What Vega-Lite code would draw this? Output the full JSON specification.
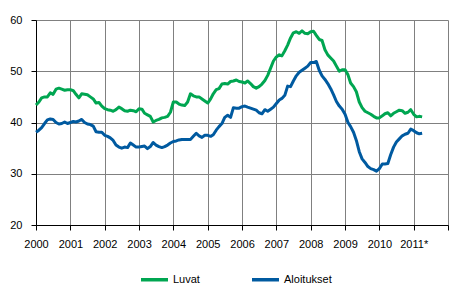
{
  "$schema": "https://vega.github.io/schema/vega-lite/v6.json",
  "width": 412,
  "height": 205,
  "autosize": {"type": "none"},
  "padding": {"left": 36, "top": 20, "right": 25, "bottom": 78},
  "background": "white",
  "config": {
    "view": {"stroke": null},
    "font": "Liberation Sans",
    "axis": {"labelFont": "Liberation Sans", "labelFontSize": 11, "labelColor": "#000000", "gridColor": "#808080", "gridWidth": 1, "gridOpacity": 1, "domainColor": "#000000", "tickColor": "#000000", "domainWidth": 1, "tickWidth": 1}
  },
  "data": {
    "values": [
      {"d":"2000-01","Luvat":43.4,"Aloitukset":38.1},
      {"d":"2000-02","Luvat":44.0,"Aloitukset":38.5},
      {"d":"2000-03","Luvat":44.8,"Aloitukset":39.0},
      {"d":"2000-04","Luvat":45.0,"Aloitukset":39.8},
      {"d":"2000-05","Luvat":45.0,"Aloitukset":40.5},
      {"d":"2000-06","Luvat":45.8,"Aloitukset":40.7},
      {"d":"2000-07","Luvat":45.5,"Aloitukset":40.6},
      {"d":"2000-08","Luvat":46.5,"Aloitukset":40.0},
      {"d":"2000-09","Luvat":46.7,"Aloitukset":39.7},
      {"d":"2000-10","Luvat":46.5,"Aloitukset":39.8},
      {"d":"2000-11","Luvat":46.3,"Aloitukset":40.1},
      {"d":"2000-12","Luvat":46.4,"Aloitukset":39.8},
      {"d":"2001-01","Luvat":46.4,"Aloitukset":40.0},
      {"d":"2001-02","Luvat":46.2,"Aloitukset":40.2},
      {"d":"2001-03","Luvat":45.5,"Aloitukset":40.1},
      {"d":"2001-04","Luvat":44.8,"Aloitukset":40.3},
      {"d":"2001-05","Luvat":45.6,"Aloitukset":40.6},
      {"d":"2001-06","Luvat":45.5,"Aloitukset":40.0},
      {"d":"2001-07","Luvat":45.4,"Aloitukset":39.7},
      {"d":"2001-08","Luvat":45.0,"Aloitukset":39.6},
      {"d":"2001-09","Luvat":44.6,"Aloitukset":39.3},
      {"d":"2001-10","Luvat":43.8,"Aloitukset":38.2},
      {"d":"2001-11","Luvat":43.9,"Aloitukset":38.1},
      {"d":"2001-12","Luvat":43.2,"Aloitukset":38.1},
      {"d":"2002-01","Luvat":42.7,"Aloitukset":37.5},
      {"d":"2002-02","Luvat":42.5,"Aloitukset":37.3},
      {"d":"2002-03","Luvat":42.4,"Aloitukset":37.0},
      {"d":"2002-04","Luvat":42.2,"Aloitukset":36.5},
      {"d":"2002-05","Luvat":42.5,"Aloitukset":35.6},
      {"d":"2002-06","Luvat":43.0,"Aloitukset":35.2},
      {"d":"2002-07","Luvat":42.7,"Aloitukset":35.0},
      {"d":"2002-08","Luvat":42.3,"Aloitukset":35.2},
      {"d":"2002-09","Luvat":42.2,"Aloitukset":35.1},
      {"d":"2002-10","Luvat":42.4,"Aloitukset":36.0},
      {"d":"2002-11","Luvat":42.3,"Aloitukset":35.6},
      {"d":"2002-12","Luvat":42.1,"Aloitukset":35.2},
      {"d":"2003-01","Luvat":42.7,"Aloitukset":35.2},
      {"d":"2003-02","Luvat":42.6,"Aloitukset":35.3},
      {"d":"2003-03","Luvat":41.8,"Aloitukset":35.4},
      {"d":"2003-04","Luvat":41.5,"Aloitukset":34.9},
      {"d":"2003-05","Luvat":41.2,"Aloitukset":35.3},
      {"d":"2003-06","Luvat":40.1,"Aloitukset":36.1},
      {"d":"2003-07","Luvat":40.4,"Aloitukset":35.6},
      {"d":"2003-08","Luvat":40.6,"Aloitukset":35.3},
      {"d":"2003-09","Luvat":40.9,"Aloitukset":35.1},
      {"d":"2003-10","Luvat":41.0,"Aloitukset":35.3},
      {"d":"2003-11","Luvat":41.2,"Aloitukset":35.6},
      {"d":"2003-12","Luvat":42.0,"Aloitukset":36.0},
      {"d":"2004-01","Luvat":44.0,"Aloitukset":36.3},
      {"d":"2004-02","Luvat":44.0,"Aloitukset":36.4},
      {"d":"2004-03","Luvat":43.6,"Aloitukset":36.6},
      {"d":"2004-04","Luvat":43.4,"Aloitukset":36.7},
      {"d":"2004-05","Luvat":43.3,"Aloitukset":36.7},
      {"d":"2004-06","Luvat":44.0,"Aloitukset":36.7},
      {"d":"2004-07","Luvat":45.6,"Aloitukset":36.7},
      {"d":"2004-08","Luvat":45.2,"Aloitukset":37.3},
      {"d":"2004-09","Luvat":45.0,"Aloitukset":37.9},
      {"d":"2004-10","Luvat":45.0,"Aloitukset":37.4},
      {"d":"2004-11","Luvat":44.6,"Aloitukset":37.1},
      {"d":"2004-12","Luvat":44.2,"Aloitukset":37.5},
      {"d":"2005-01","Luvat":43.8,"Aloitukset":37.5},
      {"d":"2005-02","Luvat":44.6,"Aloitukset":37.3},
      {"d":"2005-03","Luvat":45.6,"Aloitukset":37.6},
      {"d":"2005-04","Luvat":46.4,"Aloitukset":38.5},
      {"d":"2005-05","Luvat":46.6,"Aloitukset":39.2},
      {"d":"2005-06","Luvat":47.5,"Aloitukset":39.8},
      {"d":"2005-07","Luvat":47.6,"Aloitukset":41.0},
      {"d":"2005-08","Luvat":47.5,"Aloitukset":41.4},
      {"d":"2005-09","Luvat":48.0,"Aloitukset":41.0},
      {"d":"2005-10","Luvat":48.1,"Aloitukset":42.9},
      {"d":"2005-11","Luvat":48.3,"Aloitukset":42.8},
      {"d":"2005-12","Luvat":48.0,"Aloitukset":42.8},
      {"d":"2006-01","Luvat":47.9,"Aloitukset":43.1},
      {"d":"2006-02","Luvat":47.7,"Aloitukset":43.2},
      {"d":"2006-03","Luvat":48.1,"Aloitukset":43.0},
      {"d":"2006-04","Luvat":47.6,"Aloitukset":42.8},
      {"d":"2006-05","Luvat":47.0,"Aloitukset":42.6},
      {"d":"2006-06","Luvat":46.7,"Aloitukset":42.4},
      {"d":"2006-07","Luvat":47.0,"Aloitukset":41.9},
      {"d":"2006-08","Luvat":47.5,"Aloitukset":41.7},
      {"d":"2006-09","Luvat":48.2,"Aloitukset":42.5},
      {"d":"2006-10","Luvat":49.2,"Aloitukset":42.2},
      {"d":"2006-11","Luvat":50.6,"Aloitukset":42.6},
      {"d":"2006-12","Luvat":52.0,"Aloitukset":43.0},
      {"d":"2007-01","Luvat":52.8,"Aloitukset":43.7},
      {"d":"2007-02","Luvat":53.2,"Aloitukset":44.4},
      {"d":"2007-03","Luvat":53.0,"Aloitukset":44.7},
      {"d":"2007-04","Luvat":54.0,"Aloitukset":45.3},
      {"d":"2007-05","Luvat":55.1,"Aloitukset":47.1},
      {"d":"2007-06","Luvat":56.5,"Aloitukset":47.0},
      {"d":"2007-07","Luvat":57.5,"Aloitukset":48.1},
      {"d":"2007-08","Luvat":57.7,"Aloitukset":49.1},
      {"d":"2007-09","Luvat":57.4,"Aloitukset":49.8},
      {"d":"2007-10","Luvat":57.9,"Aloitukset":50.2},
      {"d":"2007-11","Luvat":57.4,"Aloitukset":50.6},
      {"d":"2007-12","Luvat":57.3,"Aloitukset":51.0},
      {"d":"2008-01","Luvat":57.7,"Aloitukset":51.7},
      {"d":"2008-02","Luvat":57.8,"Aloitukset":51.7},
      {"d":"2008-03","Luvat":57.0,"Aloitukset":51.9},
      {"d":"2008-04","Luvat":56.2,"Aloitukset":50.2},
      {"d":"2008-05","Luvat":56.0,"Aloitukset":49.1},
      {"d":"2008-06","Luvat":54.2,"Aloitukset":48.4},
      {"d":"2008-07","Luvat":53.2,"Aloitukset":47.6},
      {"d":"2008-08","Luvat":52.6,"Aloitukset":46.6},
      {"d":"2008-09","Luvat":52.0,"Aloitukset":45.4},
      {"d":"2008-10","Luvat":51.0,"Aloitukset":44.1},
      {"d":"2008-11","Luvat":50.0,"Aloitukset":43.2},
      {"d":"2008-12","Luvat":50.3,"Aloitukset":42.6},
      {"d":"2009-01","Luvat":50.3,"Aloitukset":41.6},
      {"d":"2009-02","Luvat":49.3,"Aloitukset":40.0},
      {"d":"2009-03","Luvat":47.7,"Aloitukset":39.2},
      {"d":"2009-04","Luvat":47.0,"Aloitukset":38.1},
      {"d":"2009-05","Luvat":46.0,"Aloitukset":36.5},
      {"d":"2009-06","Luvat":44.0,"Aloitukset":34.3},
      {"d":"2009-07","Luvat":42.9,"Aloitukset":32.9},
      {"d":"2009-08","Luvat":42.2,"Aloitukset":32.2},
      {"d":"2009-09","Luvat":41.9,"Aloitukset":31.4},
      {"d":"2009-10","Luvat":41.6,"Aloitukset":31.0},
      {"d":"2009-11","Luvat":41.2,"Aloitukset":30.8},
      {"d":"2009-12","Luvat":40.9,"Aloitukset":30.5},
      {"d":"2010-01","Luvat":40.9,"Aloitukset":31.0},
      {"d":"2010-02","Luvat":41.3,"Aloitukset":31.9},
      {"d":"2010-03","Luvat":41.7,"Aloitukset":31.9},
      {"d":"2010-04","Luvat":41.9,"Aloitukset":32.0},
      {"d":"2010-05","Luvat":41.3,"Aloitukset":33.7},
      {"d":"2010-06","Luvat":41.8,"Aloitukset":35.2},
      {"d":"2010-07","Luvat":42.1,"Aloitukset":36.2},
      {"d":"2010-08","Luvat":42.4,"Aloitukset":36.8},
      {"d":"2010-09","Luvat":42.3,"Aloitukset":37.4},
      {"d":"2010-10","Luvat":41.8,"Aloitukset":37.7},
      {"d":"2010-11","Luvat":42.0,"Aloitukset":37.9},
      {"d":"2010-12","Luvat":42.5,"Aloitukset":38.7},
      {"d":"2011-01","Luvat":41.6,"Aloitukset":38.4},
      {"d":"2011-02","Luvat":41.1,"Aloitukset":38.0},
      {"d":"2011-03","Luvat":41.2,"Aloitukset":37.8},
      {"d":"2011-04","Luvat":41.1,"Aloitukset":37.9}
    ]
  },
  "transform": [{"fold": ["Luvat", "Aloitukset"], "as": ["sarja", "arvo"]}],
  "mark": {"type": "line", "strokeWidth": 3, "strokeJoin": "round", "strokeCap": "butt"},
  "encoding": {
    "x": {
      "field": "d",
      "type": "temporal",
      "scale": {"type": "utc", "domain": ["2000-01-01", "2012-01-01"], "nice": false},
      "axis": {
        "title": null,
        "tickCount": {"interval": "year", "step": 1},
        "grid": true,
        "tickSize": 5,
        "labelPadding": 8,
        "labelAlign": "center",
        "labelOverlap": false,
        "labelFlush": false,
        "labelExpr": "utcFormat(datum.value, '%Y') == '2012' ? '' : (utcFormat(datum.value, '%Y') == '2011' ? '2011*' : utcFormat(datum.value, '%Y'))"
      }
    },
    "y": {
      "field": "arvo",
      "type": "quantitative",
      "scale": {"domain": [20, 60], "nice": false, "zero": false},
      "axis": {"title": null, "values": [20, 30, 40, 50, 60], "grid": true, "tickSize": 5, "labelPadding": 9}
    },
    "color": {
      "field": "sarja",
      "type": "nominal",
      "sort": ["Luvat", "Aloitukset"],
      "scale": {"domain": ["Luvat", "Aloitukset"], "range": ["#00A651", "#005AA0"]},
      "legend": {
        "title": null,
        "orient": "none",
        "direction": "horizontal",
        "legendX": 103,
        "legendY": 244,
        "symbolType": "stroke",
        "symbolSize": 729,
        "symbolStrokeWidth": 3.5,
        "labelFont": "Liberation Sans",
        "labelFontSize": 11,
        "labelColor": "#000000",
        "labelOffset": 3,
        "columnPadding": 45
      }
    }
  }
}
